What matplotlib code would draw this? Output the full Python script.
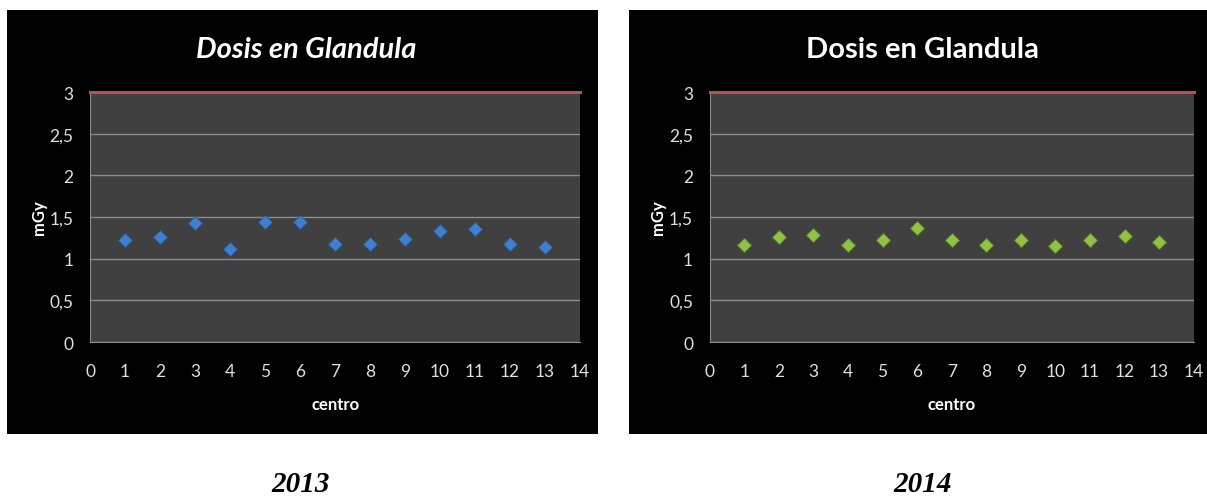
import matplotlib.pyplot as plt
from matplotlib.patches import Rectangle
from matplotlib.ticker import FuncFormatter

centros = list(range(1, 14))
dosis_2013 = [1.22, 1.26, 1.43, 1.12, 1.44, 1.44, 1.18, 1.18, 1.24, 1.33, 1.36, 1.18, 1.14]
dosis_2014 = [1.17, 1.26, 1.28, 1.16, 1.23, 1.37, 1.23, 1.17, 1.22, 1.15, 1.23, 1.27, 1.20]
limite_x = [0, 14]
limite_y = [3, 3]
years = ['2013', '2014']

sans = ['Lato', 'DejaVu Sans']

fig = plt.figure(figsize=(12.07, 5.02), dpi=100)
fig.patch.set_facecolor('white')

# black chart frames, behind the axes
frames = [(0.0058, 0.4896), (0.521, 0.479)]
for x0, w in frames:
    fig.patches.append(Rectangle((x0, 0.1335), w, 0.8446, transform=fig.transFigure,
                                 facecolor='black', edgecolor='none', zorder=-5))


def comma(v, pos):
    return ('%g' % v).replace('.', ',')


def draw(ax, values, color, edge):
    ax.set_facecolor('#404040')
    ax.set_xlim(0, 14)
    ax.set_ylim(0, 3)
    ax.set_yticks([0, 0.5, 1, 1.5, 2, 2.5, 3])
    ax.set_xticks(range(0, 15))
    ax.yaxis.set_major_formatter(FuncFormatter(comma))
    ax.grid(axis='y', color='#8a8a8a', linewidth=1)
    ax.set_axisbelow(True)
    for s in ['top', 'right']:
        ax.spines[s].set_visible(False)
    ax.spines['left'].set_color('#8a8a8a')
    ax.spines['bottom'].set_color('#8a8a8a')
    ax.tick_params(length=0, colors='#e0e0e0', labelsize=12.5)
    ax.tick_params(axis='x', pad=15)
    ax.tick_params(axis='y', pad=12)
    for lab in ax.get_xticklabels() + ax.get_yticklabels():
        lab.set_family(sans)
    ax.plot(limite_x, limite_y, color='#c0504d', linewidth=2.2, clip_on=False, zorder=3)
    ax.plot(centros, values, linestyle='none', marker='D', markersize=7.4,
            markerfacecolor=color, markeredgecolor=edge, markeredgewidth=0.6, zorder=4)
    ax.set_xlabel('centro', color='white', fontweight='bold', fontsize=12, labelpad=12,
                  family=sans)
    ax.set_ylabel('mGy', color='white', fontweight='bold', fontsize=12, labelpad=2,
                  family=sans)


ax1 = fig.add_axes([0.0746, 0.3167, 0.406, 0.498])
draw(ax1, dosis_2013, '#3f7fcf', '#2a5a99')

ax2 = fig.add_axes([0.588, 0.3167, 0.401, 0.498])
draw(ax2, dosis_2014, '#93c047', '#5f8a25')

# chart titles, centred on each black frame
fig.text(0.2535, 0.90, 'Dosis en Glandula', color='white', fontweight='bold',
         fontsize=21, style='italic', family=sans, ha='center', va='center')
fig.text(0.7645, 0.90, 'Dosis en Glandula', color='white', fontweight='bold',
         fontsize=21, family=sans, ha='center', va='center')

fig.text(0.249, 0.035, years[0], fontsize=21, fontweight='bold', style='italic',
         family='Liberation Serif', ha='center', va='center')
fig.text(0.764, 0.035, years[1], fontsize=21, fontweight='bold', style='italic',
         family='Liberation Serif', ha='center', va='center')

fig.savefig('out.png', dpi=100, facecolor='white')
